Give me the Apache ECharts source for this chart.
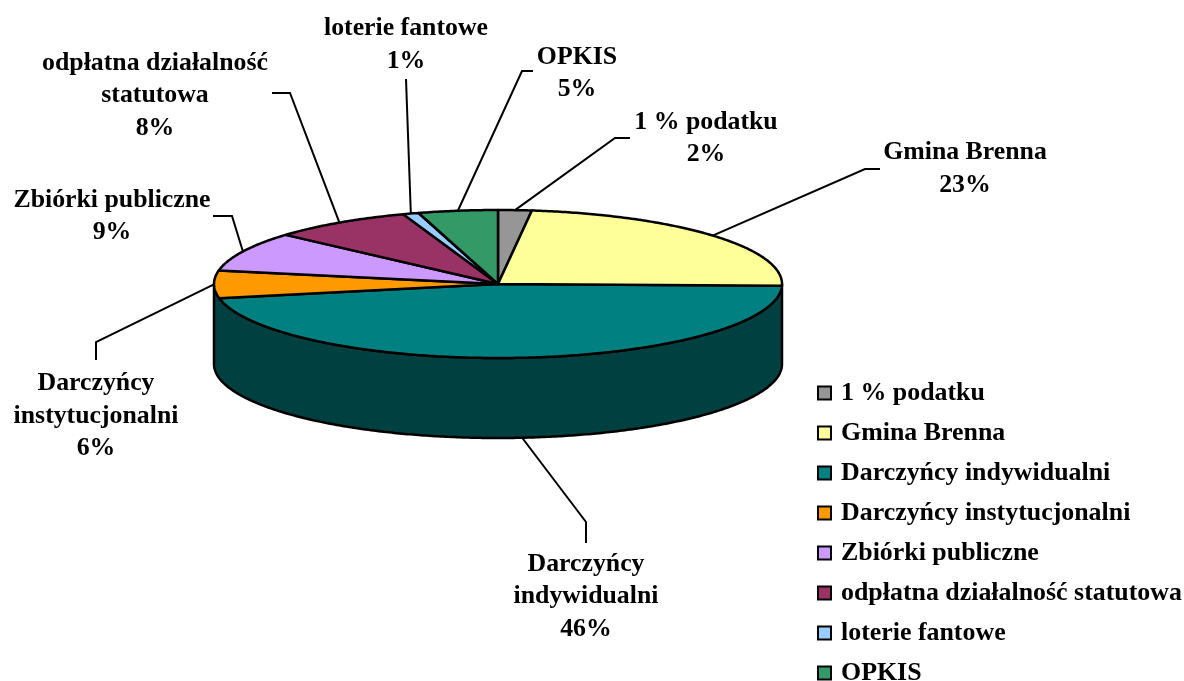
<!DOCTYPE html>
<html>
<head>
<meta charset="utf-8">
<style>
  html, body { margin: 0; padding: 0; background: #fff; }
  #chart { width: 1184px; height: 681px; }
</style>
<script src="https://cdn.jsdelivr.net/npm/echarts@6/dist/echarts.min.js"></script>
</head>
<body>
<div id="chart"></div>
<script>
const categories = ['1 % podatku', 'Gmina Brenna', 'Darczyńcy indywidualni', 'Darczyńcy instytucjonalni',
  'Zbiórki publiczne', 'odpłatna działalność statutowa', 'loterie fantowe', 'OPKIS']
const labelLines = ['1 % podatku', 'Gmina Brenna', 'Darczyńcy\nindywidualni', 'Darczyńcy\ninstytucjonalni',
  'Zbiórki publiczne', 'odpłatna działalność\nstatutowa', 'loterie fantowe', 'OPKIS']
const values = [1.9, 23.4, 46.4, 6.0, 8.6, 8.0, 0.9, 4.5]
const colors = ['#969696', '#FFFF99', '#008080', '#FF9900', '#CC99FF', '#993366', '#99CCFF', '#339966']

// pie geometry, pixels
const cx = 498, cy = 284, rx = 284, ry = 74, depth = 80
const wallColor = '#004040'
const FONT = 'bold 25.8px "Liberation Serif"'

// where each label sits and the elbow of its leader line
const labelPos = [[706, 138.5], [965, 169], [586, 596.5], [96, 416], [112, 216.5], [155, 95.5], [406, 45], [577, 73.5]]
const leaderEnds = [
  [[630, 138], [615, 138]],
  [[880, 169], [865, 169]],
  [[586, 543], [586, 522]],
  [[96, 360], [96, 342]],
  [[213, 216], [232, 216]],
  [[272, 93], [290, 93]],
  [[406, 79]],
  [[533, 71], [522, 71]]
]

const total = values.reduce((a, b) => a + b, 0)

// angle runs clockwise from 12 o'clock
function rim(a, dy = 0) {
  return [cx + rx * Math.sin(a), cy - ry * Math.cos(a) + dy]
}
function arc(a0, a1, dy = 0) {
  const n = Math.max(2, Math.ceil((a1 - a0) / 0.01))
  const pts = []
  for (let i = 0; i <= n; i++) pts.push(rim(a0 + (a1 - a0) * i / n, dy))
  return pts
}

function renderSlice(index, value) {
  const before = values.slice(0, index).reduce((a, b) => a + b, 0)
  const a0 = before / total * Math.PI * 2
  const a1 = (before + value) / total * Math.PI * 2
  const mid = (a0 + a1) / 2
  const children = []
  const isFront = a0 < Math.PI && a1 > Math.PI

  // the front slice carries the whole visible wall
  if (isFront) {
    const top = arc(Math.PI / 2, Math.PI * 1.5)
    const bottom = arc(Math.PI / 2, Math.PI * 1.5, depth).reverse()
    children.push({
      type: 'polygon',
      shape: { points: top.concat(bottom) },
      style: { fill: wallColor, stroke: '#000', lineWidth: 2.5, lineJoin: 'round' }
    })
  }
  children.push({
    type: 'polygon',
    shape: { points: [[cx, cy]].concat(arc(a0, a1)) },
    style: { fill: colors[index], stroke: '#000', lineWidth: 2.5, lineJoin: 'round' }
  })

  const anchor = rim(mid, isFront ? depth : 0)
  children.push({
    type: 'polyline',
    shape: { points: leaderEnds[index].concat([anchor]) },
    style: { fill: null, stroke: '#000', lineWidth: 2 }
  })
  children.push({
    type: 'text',
    style: {
      text: labelLines[index] + '\n' + Math.round(value) + '%',
      x: labelPos[index][0],
      y: labelPos[index][1],
      align: 'center',
      verticalAlign: 'middle',
      font: FONT,
      lineHeight: 32.5,
      fill: '#000'
    }
  })
  return { type: 'group', children }
}

const chart = echarts.init(document.getElementById('chart'), null, { renderer: 'canvas' })
chart.setOption({
  backgroundColor: '#fff',
  animation: false,
  legend: {
    orient: 'vertical',
    left: 817,
    top: 380,
    height: 320,
    icon: 'rect',
    itemWidth: 13,
    itemHeight: 13,
    itemGap: 14,
    padding: 0,
    selectedMode: false,
    data: categories,
    textStyle: { color: '#000', fontFamily: 'Liberation Serif', fontWeight: 'bold', fontSize: 25.9, lineHeight: 24, padding: [0, 0, 0, 5] }
  },
  series: categories.map((name, i) => ({
    type: 'custom',
    name,
    coordinateSystem: 'none',
    z: 2 + (i === 2 ? 0 : 1),
    itemStyle: { color: colors[i], borderColor: '#000', borderWidth: 2 },
    data: [[values[i]]],
    renderItem: (params, api) => renderSlice(i, api.value(0))
  }))
})
</script>
</body>
</html>
